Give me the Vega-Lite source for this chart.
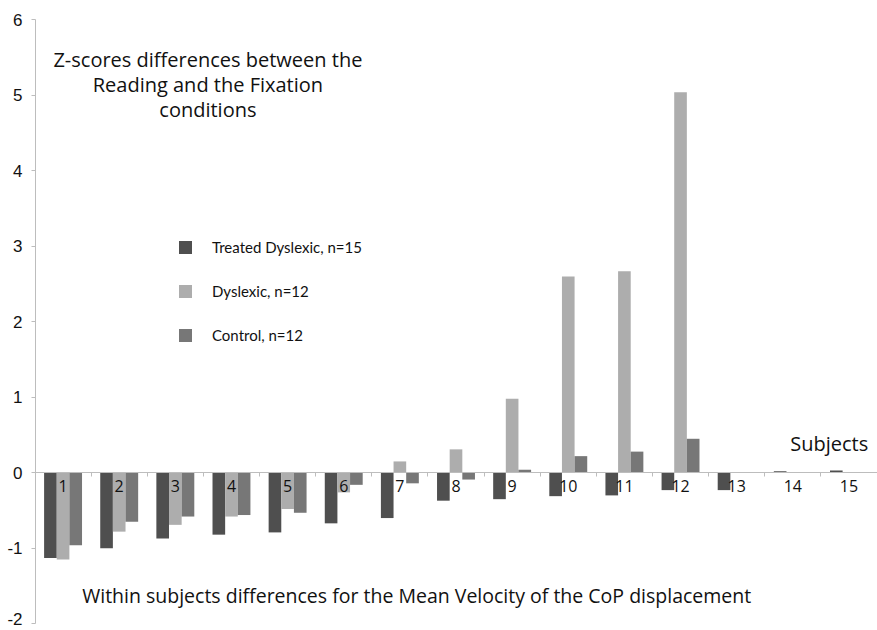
{
  "$schema": "https://vega.github.io/schema/vega-lite/v6.json",
  "width": 842,
  "height": 604,
  "autosize": {"type": "none"},
  "padding": {"left": 35, "top": 19, "right": 0, "bottom": 7},
  "background": "white",
  "config": {"view": {"stroke": null}},
  "layer": [
    {
      "data": {"values": [
        {"subject": 1, "group": "Treated Dyslexic, n=15", "value": -1.14},
        {"subject": 1, "group": "Dyslexic, n=12", "value": -1.16},
        {"subject": 1, "group": "Control, n=12", "value": -0.97},
        {"subject": 2, "group": "Treated Dyslexic, n=15", "value": -1.01},
        {"subject": 2, "group": "Dyslexic, n=12", "value": -0.79},
        {"subject": 2, "group": "Control, n=12", "value": -0.66},
        {"subject": 3, "group": "Treated Dyslexic, n=15", "value": -0.88},
        {"subject": 3, "group": "Dyslexic, n=12", "value": -0.70},
        {"subject": 3, "group": "Control, n=12", "value": -0.59},
        {"subject": 4, "group": "Treated Dyslexic, n=15", "value": -0.83},
        {"subject": 4, "group": "Dyslexic, n=12", "value": -0.59},
        {"subject": 4, "group": "Control, n=12", "value": -0.57},
        {"subject": 5, "group": "Treated Dyslexic, n=15", "value": -0.80},
        {"subject": 5, "group": "Dyslexic, n=12", "value": -0.49},
        {"subject": 5, "group": "Control, n=12", "value": -0.54},
        {"subject": 6, "group": "Treated Dyslexic, n=15", "value": -0.68},
        {"subject": 6, "group": "Dyslexic, n=12", "value": -0.27},
        {"subject": 6, "group": "Control, n=12", "value": -0.17},
        {"subject": 7, "group": "Treated Dyslexic, n=15", "value": -0.61},
        {"subject": 7, "group": "Dyslexic, n=12", "value": 0.14},
        {"subject": 7, "group": "Control, n=12", "value": -0.15},
        {"subject": 8, "group": "Treated Dyslexic, n=15", "value": -0.38},
        {"subject": 8, "group": "Dyslexic, n=12", "value": 0.30},
        {"subject": 8, "group": "Control, n=12", "value": -0.10},
        {"subject": 9, "group": "Treated Dyslexic, n=15", "value": -0.36},
        {"subject": 9, "group": "Dyslexic, n=12", "value": 0.97},
        {"subject": 9, "group": "Control, n=12", "value": 0.03},
        {"subject": 10, "group": "Treated Dyslexic, n=15", "value": -0.32},
        {"subject": 10, "group": "Dyslexic, n=12", "value": 2.59},
        {"subject": 10, "group": "Control, n=12", "value": 0.21},
        {"subject": 11, "group": "Treated Dyslexic, n=15", "value": -0.31},
        {"subject": 11, "group": "Dyslexic, n=12", "value": 2.66},
        {"subject": 11, "group": "Control, n=12", "value": 0.27},
        {"subject": 12, "group": "Treated Dyslexic, n=15", "value": -0.24},
        {"subject": 12, "group": "Dyslexic, n=12", "value": 5.03},
        {"subject": 12, "group": "Control, n=12", "value": 0.44},
        {"subject": 13, "group": "Treated Dyslexic, n=15", "value": -0.24},
        {"subject": 14, "group": "Treated Dyslexic, n=15", "value": 0.01},
        {"subject": 15, "group": "Treated Dyslexic, n=15", "value": 0.02}
      ]},
      "mark": {"type": "bar"},
      "encoding": {
        "x": {
          "field": "subject", "type": "ordinal",
          "scale": {"paddingInner": 0, "paddingOuter": 0},
          "axis": {
            "title": null, "orient": "bottom", "offset": -151, "zindex": 1,
            "labelAngle": 0, "bandPosition": 0,
            "domainColor": "#bdbdbd", "tickColor": "#bdbdbd", "tickSize": 4,
            "labelFont": "Open Sans", "labelFontSize": 16, "labelColor": "#111",
            "labelPadding": 2, "labelBaseline": "top"
          }
        },
        "xOffset": {
          "field": "group", "type": "nominal",
          "sort": ["Treated Dyslexic, n=15", "Dyslexic, n=12", "Control, n=12"],
          "scale": {"paddingOuter": 0.72, "paddingInner": 0}
        },
        "y": {
          "field": "value", "type": "quantitative",
          "scale": {"domain": [-2, 6], "nice": false, "zero": false},
          "axis": {
            "title": null, "values": [-2, -1, 0, 1, 2, 3, 4, 5, 6], "labelExpr": "'' + datum.value", "grid": false,
            "domainColor": "#bdbdbd", "tickColor": "#bdbdbd", "tickSize": 4,
            "labelFont": "Liberation Sans", "labelFontSize": 17, "labelColor": "#111",
            "labelPadding": 9, "labelBaseline": "alphabetic",
            "labelOffset": {"condition": {"test": "datum.value == -2", "value": 1}, "value": 6}
          }
        },
        "color": {
          "field": "group", "type": "nominal",
          "sort": ["Treated Dyslexic, n=15", "Dyslexic, n=12", "Control, n=12"],
          "scale": {"range": ["#4f4f4f", "#adadad", "#777777"]},
          "legend": {
            "title": null, "orient": "none", "legendX": 143, "legendY": 221,
            "symbolType": "square", "symbolSize": 169, "symbolStrokeWidth": 0,
            "labelFont": "Lato", "labelFontSize": 15, "labelColor": "#111",
            "rowPadding": 28, "labelOffset": 19, "padding": 0
          }
        }
      }
    },
    {
      "data": {"values": [
        {"subject": 4, "value": 5.45, "label": ["Z-scores differences between the", "Reading and the Fixation", "conditions"], "bp": 0.08, "size": 20},
        {"subject": 15, "value": 0.36, "label": "Subjects", "bp": 0.15, "size": 20},
        {"subject": 7, "value": -1.66, "label": "Within subjects differences for the Mean Velocity of the CoP displacement", "bp": 0.8, "size": 19.5}
      ]},
      "mark": {"type": "text", "font": "Open Sans", "color": "#111", "lineHeight": 25, "align": "center", "baseline": "middle"},
      "encoding": {
        "x": {"field": "subject", "type": "ordinal", "bandPosition": 0.5},
        "xOffset": {"field": "bp", "type": "quantitative", "scale": {"domain": [0, 1], "range": [0, 56.13]}},
        "y": {"field": "value", "type": "quantitative"},
        "size": {"field": "size", "type": "quantitative", "scale": null, "legend": null},
        "text": {"field": "label"}
      }
    }
  ],
  "resolve": {"scale": {"xOffset": "independent"}}
}
